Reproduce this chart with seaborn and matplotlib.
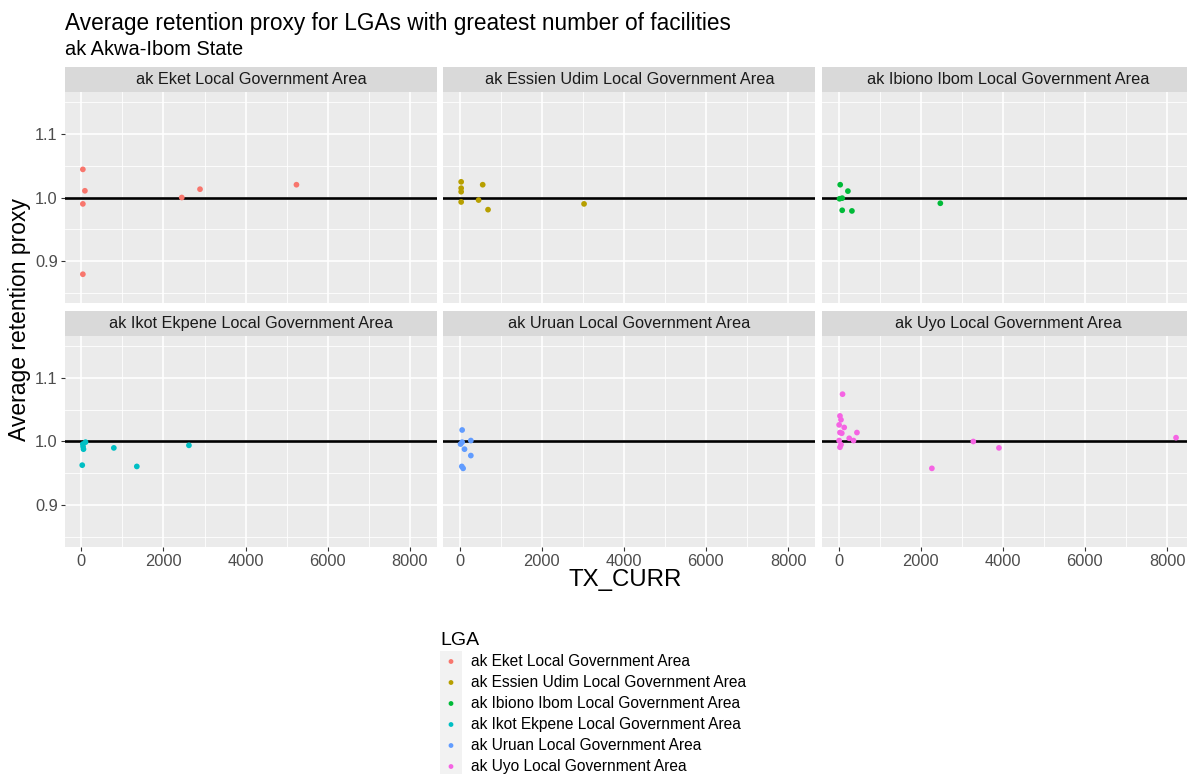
import numpy as np
import pandas as pd
import matplotlib
matplotlib.use("Agg")
import matplotlib.pyplot as plt
import seaborn as sns
from matplotlib.patches import Rectangle

# ---------------- data ----------------
lgas = [
    "ak Eket Local Government Area",
    "ak Essien Udim Local Government Area",
    "ak Ibiono Ibom Local Government Area",
    "ak Ikot Ekpene Local Government Area",
    "ak Uruan Local Government Area",
    "ak Uyo Local Government Area",
]
colors = ["#F8766D", "#B79F00", "#00BA38", "#00BFC4", "#619CFF", "#F564E3"]

eket_tx = [35, 85, 35, 35, 2445, 2890, 5240]
eket_ret = [1.044, 1.0105, 0.990, 0.880, 1.000, 1.013, 1.020]

essien_tx = [35, 35, 35, 35, 560, 460, 690, 3030]
essien_ret = [1.0245, 1.0146, 1.009, 0.993, 1.020, 0.996, 0.981, 0.990]

ibiono_tx = [36, 224, 20, 85, 85, 322, 2476]
ibiono_ret = [1.020, 1.010, 0.998, 0.999, 0.980, 0.979, 0.991]

ikot_tx = [100, 35, 50, 40, 790, 20, 1350, 2620]
ikot_ret = [0.999, 0.996, 0.988, 0.992, 0.990, 0.963, 0.961, 0.994]

uruan_tx = [59, 59, 20, 271, 117, 271, 51, 83]
uruan_ret = [1.018, 0.999, 0.996, 1.0015, 0.988, 0.978, 0.961, 0.958]

uyo_tx = [93, 30, 55, 10, 134, 30, 75, 444, 256, 361, 10, 55, 30, 2270, 3280, 3905, 8220]
uyo_ret = [1.074, 1.040, 1.034, 1.026, 1.022, 1.014, 1.013, 1.014, 1.005, 1.0015,
           1.0015, 0.995, 0.991, 0.958, 1.000, 0.990, 1.006]

x_ticks = [0, 2000, 4000, 6000, 8000]
x_tick_labels = ["0", "2000", "4000", "6000", "8000"]
y_ticks = [0.9, 1.0, 1.1]
y_tick_labels = ["0.9", "1.0", "1.1"]

title = "Average retention proxy for LGAs with greatest number of facilities"
subtitle = "ak Akwa-Ibom State"
x_label = "TX_CURR"
y_label = "Average retention proxy"
legend_title = "LGA"

series = [(eket_tx, eket_ret), (essien_tx, essien_ret), (ibiono_tx, ibiono_ret),
          (ikot_tx, ikot_ret), (uruan_tx, uruan_ret), (uyo_tx, uyo_ret)]
frames = []
for name, (tx, rt) in zip(lgas, series):
    frames.append(pd.DataFrame({"LGA": name, "TX_CURR": tx, "ret": rt}))
df = pd.concat(frames, ignore_index=True)

# ---------------- figure ----------------
plt.rcParams["font.family"] = ["Liberation Sans", "DejaVu Sans"]
W, H = 1187, 774
fig = plt.figure(figsize=(W / 100, H / 100), dpi=100)


def box(x0, y0, x1, y1):
    return [x0 / W, 1 - y1 / H, (x1 - x0) / W, (y1 - y0) / H]


col_left = [65, 443.3, 822.3]
pw = 372
row_top = [92, 336]
ph = 211
strip_h = 25
palette = dict(zip(lgas, colors))

for i, name in enumerate(lgas):
    r, c = divmod(i, 3)
    x0 = col_left[c]
    y0 = row_top[r]
    ax = fig.add_axes(box(x0, y0, x0 + pw, y0 + ph))
    ax.set_facecolor("#EBEBEB")
    ax.set_xlim(-400, 8665)
    ax.set_ylim(0.835, 1.165)
    ax.set_xticks(x_ticks)
    ax.set_xticklabels(x_tick_labels)
    ax.set_xticks([1000, 3000, 5000, 7000], minor=True)
    ax.set_yticks(y_ticks)
    ax.set_yticklabels(y_tick_labels)
    ax.set_yticks([0.85, 0.95, 1.05, 1.15], minor=True)
    ax.grid(which="major", color="white", lw=1.2)
    ax.grid(which="minor", color="white", lw=0.6)
    ax.set_axisbelow(True)
    for s in ax.spines.values():
        s.set_visible(False)
    ax.axhline(1.0, color="black", lw=1.9, zorder=3)
    sub = df[df.LGA == name]
    sns.scatterplot(data=sub, x="TX_CURR", y="ret", hue="LGA", palette=palette,
                    s=17, edgecolor="none", linewidth=0, ax=ax, zorder=4, legend=False)
    ax.set_xlabel("")
    ax.set_ylabel("")
    ax.tick_params(which="major", length=2.8, width=0.8, color="#333333",
                   labelsize=11.8, labelcolor="#4D4D4D", pad=2.5)
    ax.tick_params(which="minor", length=0)
    if r == 0:
        ax.tick_params(axis="x", labelbottom=False, length=0)
    if c > 0:
        ax.tick_params(axis="y", labelleft=False, length=0)
    # strip
    sax = fig.add_axes(box(x0, y0 - strip_h, x0 + pw, y0))
    sax.set_facecolor("#D9D9D9")
    sax.set_xticks([])
    sax.set_yticks([])
    for s in sax.spines.values():
        s.set_visible(False)
    sax.text(0.5, 0.5, name, ha="center", va="center", fontsize=11.7,
             color="#1A1A1A", transform=sax.transAxes)

# titles
fig.text(65 / W, 1 - 30 / H, title, fontsize=16.3, color="black", va="baseline")
fig.text(65 / W, 1 - 55 / H, subtitle, fontsize=14.4, color="black", va="baseline")
fig.text(625 / W, 1 - 580 / H, x_label, fontsize=17.3, ha="center", va="center")
fig.text(20 / W, 1 - 320 / H, y_label, fontsize=16.5, ha="center", va="center",
         rotation=90)

# legend
lax = fig.add_axes([0, 0, 1, 1], zorder=-1)
lax.set_xlim(0, W)
lax.set_ylim(H, 0)
lax.axis("off")
lax.text(440, 645, legend_title, fontsize=14, va="baseline", ha="left")
key_y0 = 651
key_h = 21
for k, name in enumerate(lgas):
    yc = key_y0 + key_h * k + key_h / 2
    lax.add_patch(Rectangle((440, key_y0 + key_h * k), 22, key_h,
                            facecolor="#F2F2F2", edgecolor="none"))
    lax.scatter([451], [yc], s=12, color=colors[k], edgecolor="none")
    lax.text(471, yc, name, fontsize=11.2, va="center", ha="left", color="black")

fig.savefig("out.png", dpi=100)
